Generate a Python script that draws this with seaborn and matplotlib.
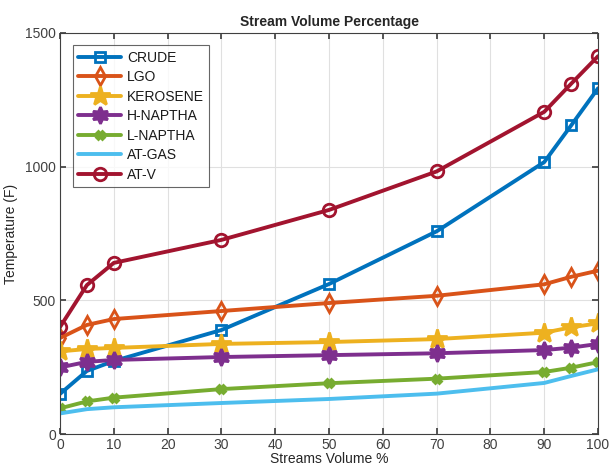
import matplotlib
matplotlib.use("Agg")
import matplotlib.pyplot as plt
import seaborn as sns
import pandas as pd

volume = [0, 5, 10, 30, 50, 70, 90, 95, 100]
crude = [150, 236, 273, 389, 561, 758, 1017, 1154, 1293]
lgo = [359, 408, 430, 460, 490, 517, 560, 588, 611]
kerosene = [309, 318, 322, 337, 344, 355, 379, 399, 414]
h_naptha = [249, 270, 277, 288, 295, 302, 314, 323, 337]
l_naptha = [96, 122, 136, 168, 190, 207, 232, 248, 269]
at_gas = [77, 93, 100, 116, 131, 151, 191, 217, 242]
at_v = [400, 557, 640, 726, 838, 982, 1205, 1310, 1413]

names = ["CRUDE", "LGO", "KEROSENE", "H-NAPTHA", "L-NAPTHA", "AT-GAS", "AT-V"]
series = [crude, lgo, kerosene, h_naptha, l_naptha, at_gas, at_v]
colors = ["#0072BD", "#D95319", "#EDB120", "#7E2F8E", "#77AC30", "#4DBEEE", "#A2142F"]
markers = ["s", "d", "*", (6, 1, 0), "X", None, "o"]
msizes = [7, 9, 15, 12, 6, 0, 9]
filled = [False, False, True, True, True, True, False]

sns.set_theme(style="whitegrid")
plt.rcParams["font.family"] = ["Liberation Sans", "DejaVu Sans"]

fig = plt.figure(figsize=(6.09, 4.68), dpi=100)
ax = fig.add_axes([0.0985, 0.0726, 0.8835, 0.857])

for name, vals, c, m, ms, f in zip(names, series, colors, markers, msizes, filled):
    df = pd.DataFrame({"x": volume, "y": vals})
    kw = dict(color=c, linewidth=2.8, label=name)
    if m is not None:
        kw.update(marker=m, markersize=ms, markeredgecolor=c, markeredgewidth=2,
                  markerfacecolor=c if f else "none")
    sns.lineplot(data=df, x="x", y="y", ax=ax, **kw)

ax.set_xlim(0, 100)
ax.set_ylim(0, 1500)
ax.set_xticks(range(0, 101, 10))
ax.set_yticks([0, 500, 1000, 1500])
ax.grid(True, color="#e0e0e0", linewidth=0.8)
ax.set_facecolor("white")
for s in ax.spines.values():
    s.set_visible(True)
    s.set_color("#404040")
    s.set_linewidth(0.8)
ax.tick_params(direction="in", length=4, labelsize=10, colors="#404040", top=True, right=True,
               bottom=True, left=True, labeltop=False, labelright=False, pad=3)
ax.set_title("Stream Volume Percentage", fontsize=10, fontweight="bold", pad=5)
ax.set_xlabel("Streams Volume %", fontsize=10, labelpad=0, color="#262626")
ax.set_ylabel("Temperature (F)", fontsize=10, labelpad=5, color="#262626")

leg = ax.legend(loc="upper left", bbox_to_anchor=(0.0236, 0.970), borderaxespad=0,
                fontsize=10, frameon=True, fancybox=False, edgecolor="#404040",
                handlelength=3.1, handletextpad=0.4, labelspacing=0.4, borderpad=0.4)
leg.get_frame().set_linewidth(0.8)
for t in leg.get_texts():
    t.set_color("#1a1a1a")

fig.savefig("out.png", dpi=100)
